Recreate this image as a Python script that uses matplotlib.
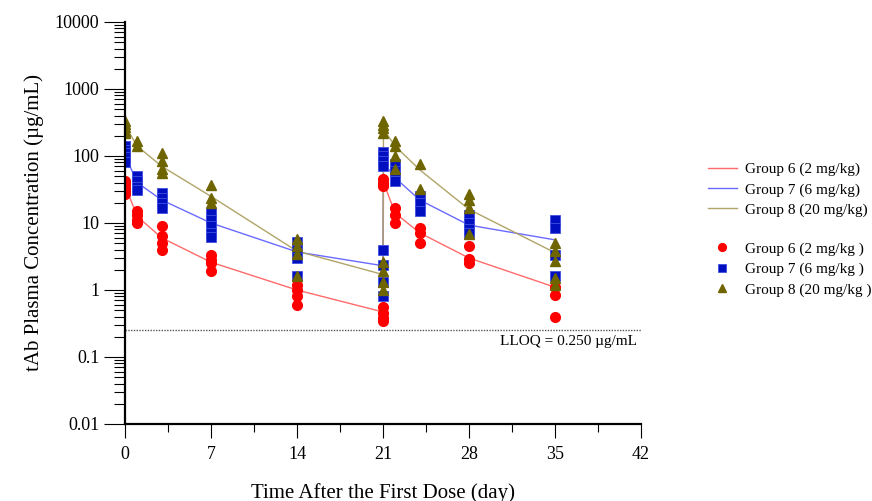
import matplotlib
matplotlib.use("Agg")
import matplotlib.pyplot as plt
from matplotlib.ticker import FixedLocator, FixedFormatter, LogLocator, NullFormatter, MultipleLocator

plt.rcParams['font.family'] = ['Liberation Serif', 'DejaVu Serif']

# mean profile times (day); 21 = predose, 21.04 = after 2nd dose
mean_days = [0.04, 1, 3, 7, 14, 21, 21.04, 22, 24, 28, 35]
g6_mean = [35, 12.5, 6, 2.6, 1.0, 0.47, 40, 14, 7.1, 3.0, 1.1]
g7_mean = [100, 40, 22, 10, 3.7, 2.3, 80, 47, 22, 9.3, 5.6]
g8_mean = [280, 140, 70, 25, 3.8, 1.7, 250, 140, 62, 16, 3.6]

# individual observations per sampling time
obs_days = [0.04, 1, 3, 7, 14, 21, 21.04, 22, 24, 28, 35]
g6_obs = [[43, 38, 33, 30, 27], [15, 13, 11, 10], [9, 6.5, 5, 4], [3.3, 2.8, 2.5, 1.9],
          [1.2, 1.0, 0.8, 0.6], [0.55, 0.45, 0.38, 0.34], [45, 40, 36],
          [17, 13, 10], [8.5, 7, 5], [4.6, 2.9, 2.5], [1.1, 0.85, 0.4]]
g7_obs = [[140, 125, 110, 95, 80], [50, 42, 35, 31], [28, 24, 20, 17], [14, 11, 9, 7, 6.2],
          [5.2, 4, 3, 1.6], [4, 2.4, 1.3, 0.8], [115, 100, 85, 70],
          [75, 60, 42], [25, 20, 15], [13, 10, 8, 7], [11, 8.5, 3.3, 1.6]]
g8_obs = [[330, 300, 270, 240, 220], [170, 140], [110, 85, 65, 55], [37, 24, 20],
          [5.8, 4.5, 3.5, 1.6], [2.6, 1.9, 1.3, 1.0], [330, 290, 260, 220],
          [170, 140, 100, 65], [75, 32], [27, 22, 17, 6.8], [5, 3.8, 2.7, 1.5, 1.2]]

lloq = 0.25
line_labels = ['Group 6 (2 mg/kg)', 'Group 7 (6 mg/kg)', 'Group 8 (20 mg/kg)']
dot_labels = ['Group 6 (2 mg/kg )', 'Group 7 (6 mg/kg )', 'Group 8 (20 mg/kg )']


def flat(days, obs):
    xs, ys = [], []
    for d, vals in zip(days, obs):
        xs += [d] * len(vals)
        ys += vals
    return xs, ys


fig = plt.figure(figsize=(8.72, 5.01), dpi=100)
ax = fig.add_axes([0.1433, 0.1537, 0.5918, 0.8024])

l6, = ax.plot(mean_days, g6_mean, color='#ff6a6a', lw=1.0, label=line_labels[0])
l7, = ax.plot(mean_days, g7_mean, color='#6a6aff', lw=1.0, label=line_labels[1])
l8, = ax.plot(mean_days, g8_mean, color='#b0a468', lw=1.0, label=line_labels[2])

x, y = flat(obs_days, g6_obs)
s6, = ax.plot(x, y, 'o', color='#ff0000', ms=7, mec='#ff0000', label=dot_labels[0])
x, y = flat(obs_days, g7_obs)
s7, = ax.plot(x, y, 's', color='#0010c0', ms=7, mec='#4050e0', mew=0.6, label=dot_labels[1])
x, y = flat(obs_days, g8_obs)
s8, = ax.plot(x, y, '^', color='#6e6400', ms=7.5, mec='#6e6400', label=dot_labels[2])

ax.plot([0, 42], [lloq, lloq], ls=(0, (1, 1)), color='#555555', lw=1.0)
ax.text(41.7, 0.21, 'LLOQ = 0.250 µg/mL', ha='right', va='top', fontsize=11)

ax.set_yscale('log')
ax.set_xlim(0, 42)
ax.set_ylim(0.01, 10000)
ax.yaxis.set_major_locator(FixedLocator([0.01, 0.1, 1, 10, 100, 1000, 10000]))
ax.yaxis.set_major_formatter(FixedFormatter(['0.01', '0.1', '1', '10', '100', '1000', '10000']))
ax.yaxis.set_minor_locator(LogLocator(base=10, subs=range(2, 10), numticks=20))
ax.yaxis.set_minor_formatter(NullFormatter())
ax.xaxis.set_major_locator(MultipleLocator(7))
ax.xaxis.set_minor_locator(MultipleLocator(3.5))

for s in ['top', 'right']:
    ax.spines[s].set_visible(False)
ax.spines['left'].set_linewidth(1.6)
ax.spines['bottom'].set_linewidth(1.6)
ax.tick_params(axis='y', which='major', length=15, width=0.8, labelsize=13, direction='out')
ax.tick_params(axis='y', which='minor', length=8, width=0.8, direction='out')
ax.tick_params(axis='x', which='major', length=10, width=0.8, labelsize=13, direction='out', pad=6)
ax.tick_params(axis='x', which='minor', length=6, width=0.8, direction='out')

ax.set_xlabel('Time After the First Dose (day)', fontsize=15, labelpad=14)
ax.set_ylabel('tAb Plasma Concentration (µg/mL)', fontsize=15, labelpad=8)

leg1 = fig.legend(handles=[l6, l7, l8], loc='upper left', bbox_to_anchor=(0.803, 0.691),
                  frameon=False, fontsize=11, handlelength=1.9, labelspacing=0.42,
                  handletextpad=0.5, borderpad=0)
leg2 = fig.legend(handles=[s6, s7, s8], loc='upper left', bbox_to_anchor=(0.803, 0.532),
                  frameon=False, fontsize=11, handlelength=1.9, labelspacing=0.42,
                  handletextpad=0.5, borderpad=0, markerscale=0.8)

plt.savefig('out.png', dpi=100)
